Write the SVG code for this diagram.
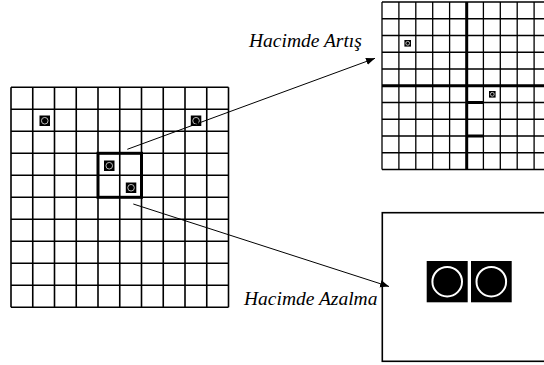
<svg xmlns="http://www.w3.org/2000/svg" width="544" height="365" viewBox="0 0 544 365">
  <style>
    .grid { fill: none; stroke: #000; stroke-width: 1.6; }
    .fine { fill: none; stroke: #000; stroke-width: 1.3; }
    .heavy { fill: none; stroke: #000; stroke-width: 3; }
    .conn { fill: none; stroke: #000; stroke-width: 1; }
    .cell { fill: #000; }
    .ring { fill: none; stroke: #bbb; stroke-width: 1; }
    .ringbig { fill: none; stroke: #fff; stroke-width: 2; }
    .label { font-family: "Liberation Serif", "Times New Roman", serif; font-style: italic; font-size: 19.5px; fill: #000; }
  </style>
  <defs>
    <marker id="arrow" viewBox="0 0 10 10" refX="10" refY="5" markerWidth="9" markerHeight="9" markerUnits="userSpaceOnUse" orient="auto">
      <path d="M0,1 L10,5 L0,9 Z" fill="#000"/>
    </marker>
  </defs>
  <rect width="544" height="365" fill="#fff"/>

  <!-- left grid: 10 x 10 cells -->
  <g id="grid-left">
    <path class="grid" d="M11,87.3 V307.3 M32.75,87.3 V307.3 M54.5,87.3 V307.3 M76.25,87.3 V307.3 M98,87.3 V307.3 M119.75,87.3 V307.3 M141.5,87.3 V307.3 M163.25,87.3 V307.3 M185,87.3 V307.3 M206.75,87.3 V307.3 M228.5,87.3 V307.3
      M11,87.3 H228.5 M11,109.3 H228.5 M11,131.3 H228.5 M11,153.3 H228.5 M11,175.3 H228.5 M11,197.3 H228.5 M11,219.3 H228.5 M11,241.3 H228.5 M11,263.3 H228.5 M11,285.3 H228.5 M11,307.3 H228.5"/>
    <rect class="heavy" x="98" y="153.3" width="43.5" height="44"/>
    <g id="marker-left-1"><rect class="cell" x="39.5" y="115.5" width="10.5" height="10.5"/><circle class="ring" cx="44.75" cy="120.75" r="3.3"/></g>
    <g id="marker-left-2"><rect class="cell" x="190.8" y="115.5" width="10.5" height="10.5"/><circle class="ring" cx="196.05" cy="120.75" r="3.3"/></g>
    <g id="marker-left-3"><rect class="cell" x="104" y="160.5" width="10.5" height="10.5"/><circle class="ring" cx="109.25" cy="165.75" r="3.3"/></g>
    <g id="marker-left-4"><rect class="cell" x="125.8" y="182.5" width="10.5" height="10.5"/><circle class="ring" cx="131.05" cy="187.75" r="3.3"/></g>
  </g>

  <!-- upper right grid, split into blocks -->
  <g id="grid-upper">
    <path class="fine" d="M382,2 V169.5 M398.9,2 V169.5 M415.8,2 V169.5 M432.7,2 V169.5 M449.6,2 V169.5 M483.4,2 V169.5 M500.3,2 V169.5 M517.2,2 V169.5 M534.1,2 V169.5
      M382,2 H544 M382,18.75 H544 M382,35.5 H544 M382,52.25 H544 M382,69 H544 M382,102.5 H544 M382,119.25 H544 M382,136 H544 M382,152.75 H544 M382,169.5 H544"/>
    <path class="heavy" d="M466.7,2 V169.5 M382,85.75 H544 M466.7,102.5 H483.4 M466.7,136 H483.4"/>
    <g id="marker-upper-1"><rect class="cell" x="404.4" y="40" width="6.6" height="6.6"/><circle class="ring" cx="407.7" cy="43.3" r="1.9"/></g>
    <g id="marker-upper-2"><rect class="cell" x="489" y="91" width="6.6" height="6.6"/><circle class="ring" cx="492.3" cy="94.3" r="1.9"/></g>
  </g>

  <!-- lower right frame with two cells -->
  <g id="frame-lower">
    <rect class="grid" x="382.3" y="212.7" width="175" height="148.6"/>
    <rect class="cell" x="426.7" y="261" width="41" height="41.3"/>
    <circle class="ringbig" cx="447.2" cy="281.7" r="14.8"/>
    <rect class="cell" x="471" y="261" width="40.7" height="41.3"/>
    <circle class="ringbig" cx="491.3" cy="281.7" r="14.8"/>
  </g>

  <!-- connectors -->
  <g id="connectors">
    <line class="conn" x1="127.3" y1="149.3" x2="375" y2="58.3" marker-end="url(#arrow)"/>
    <line class="conn" x1="133.3" y1="204" x2="389" y2="286.5" marker-end="url(#arrow)"/>
  </g>

  <g id="labels">
    <text class="label" x="249" y="47">Hacimde Artış</text>
    <text class="label" x="244" y="304.5">Hacimde Azalma</text>
  </g>
</svg>
